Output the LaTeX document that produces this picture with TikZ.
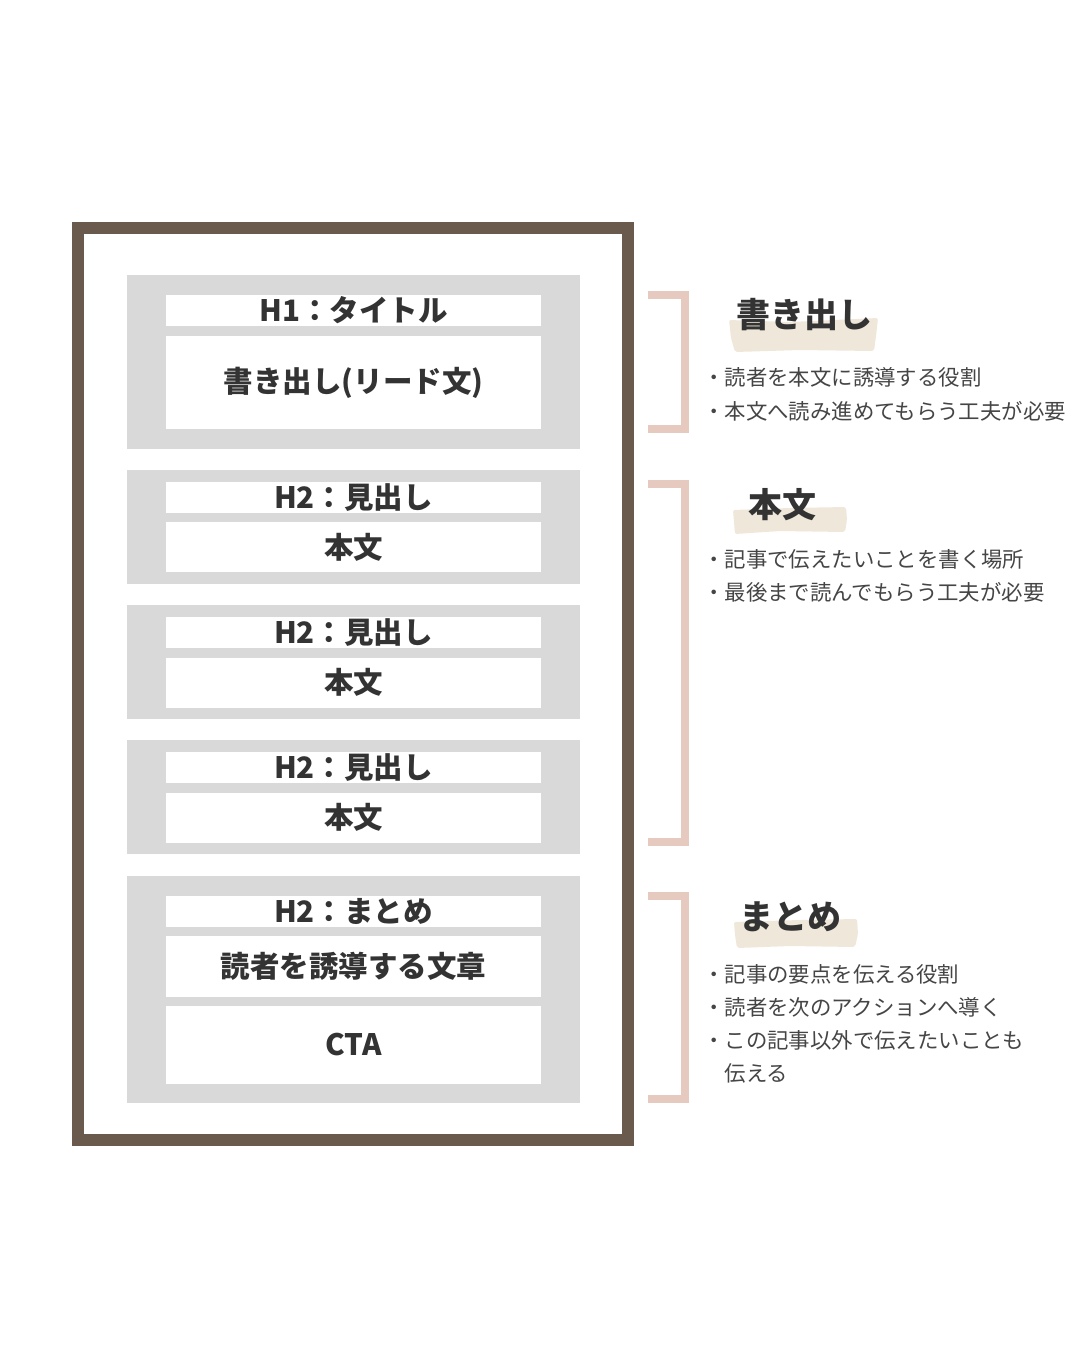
\documentclass[tikz,border=0pt]{standalone}
\usepackage{fontspec}
\setmainfont{Noto Sans CJK JP}
\definecolor{framebrown}{HTML}{6A5A4D}
\definecolor{blockgray}{HTML}{D9D9D9}
\definecolor{bracketpink}{HTML}{E6C9BF}
\definecolor{patchbeige}{HTML}{EFE8DA}
\definecolor{inkdark}{HTML}{333333}
\definecolor{inkgray}{HTML}{454545}
\tikzset{
  block/.style={fill=blockgray,inner sep=0pt,minimum width=453pt},
  slot/.style={fill=white,inner sep=0pt,minimum width=375pt,text=inkdark,font=\fontsize{29.5pt}{31pt}\selectfont\bfseries},
  bracket/.style={draw=bracketpink,line width=8pt},
  heading/.style={anchor=base west,inner sep=0pt,text=inkdark,font=\fontsize{34pt}{36pt}\selectfont\bfseries},
  point/.style={anchor=base west,inner sep=0pt,text=inkgray,font=\fontsize{21.4pt}{24pt}\selectfont},
}
\begin{document}
\begin{tikzpicture}[x=1pt,y=-1pt]
\useasboundingbox (0,0) rectangle (1080,1350);
\fill[white] (0,0) rectangle (1080,1350);

\node[draw=framebrown,line width=12pt,inner sep=0pt,minimum width=550pt,minimum height=912pt] (page) at (353,684) {};

\node[block,minimum height=174pt] (blk1) at (353.5,362) {};
\node[slot,minimum height=31pt] (ttl1) at (353.5,310.5) {H1：タイトル};
\node[slot,minimum height=93pt] (lead) at (353.5,382.5) {書き出し(リード文)};

\node[block,minimum height=114pt] (blk2) at (353.5,527) {};
\node[slot,minimum height=31pt] (ttl2) at (353.5,497.5) {H2：見出し};
\node[slot,minimum height=50pt] (txt2) at (353.5,547) {本文};

\node[block,minimum height=114pt] (blk3) at (353.5,662) {};
\node[slot,minimum height=31pt] (ttl3) at (353.5,632.5) {H2：見出し};
\node[slot,minimum height=50pt] (txt3) at (353.5,682.5) {本文};

\node[block,minimum height=114pt] (blk4) at (353.5,797) {};
\node[slot,minimum height=31pt] (ttl4) at (353.5,767.5) {H2：見出し};
\node[slot,minimum height=50pt] (txt4) at (353.5,817.5) {本文};

\node[block,minimum height=227pt] (blk5) at (353.5,989.5) {};
\node[slot,minimum height=31pt] (ttl5) at (353.5,911.5) {H2：まとめ};
\node[slot,minimum height=61pt] (lead5) at (353.5,966.5) {読者を誘導する文章};
\node[slot,minimum height=78pt] (cta) at (353.5,1045) {CTA};

\draw[bracket] (648,295) -- (685,295) -- (685,429) -- (648,429);
\draw[bracket] (648,484) -- (685,484) -- (685,841.5) -- (648,841.5);
\draw[bracket] (648,896) -- (685,896) -- (685,1099) -- (648,1099);

\fill[patchbeige,rounded corners=2pt] (729,320) -- (790,322) -- (878,318) -- (876,336) -- (874,351) -- (800,350) -- (735,352) -- (731,338) -- cycle;
\fill[patchbeige,rounded corners=2pt] (733,510) -- (790,508) -- (846,507) -- (847,520) -- (845,532) -- (780,531) -- (735,534) -- (734,522) -- cycle;
\fill[patchbeige,rounded corners=2pt] (734,922) -- (800,920) -- (857,919) -- (858,934) -- (855,947) -- (790,946) -- (737,948) -- (735,935) -- cycle;

\node[heading] (hd1) at (736,327.5) {書き出し};
\node[point] (p11) at (703,385) {・読者を本文に誘導する役割};
\node[point] (p12) at (703,419) {・本文へ読み進めてもらう工夫が必要};

\node[heading] (hd2) at (748,517.5) {本文};
\node[point] (p21) at (703,567) {・記事で伝えたいことを書く場所};
\node[point] (p22) at (703,600) {・最後まで読んでもらう工夫が必要};

\node[heading] (hd3) at (739,929.5) {まとめ};
\node[point] (p31) at (703,982) {・記事の要点を伝える役割};
\node[point] (p32) at (703,1015) {・読者を次のアクションへ導く};
\node[point] (p33) at (703,1048) {・この記事以外で伝えたいことも};
\node[point] (p34) at (724.4,1081) {伝える};
\end{tikzpicture}
\end{document}
